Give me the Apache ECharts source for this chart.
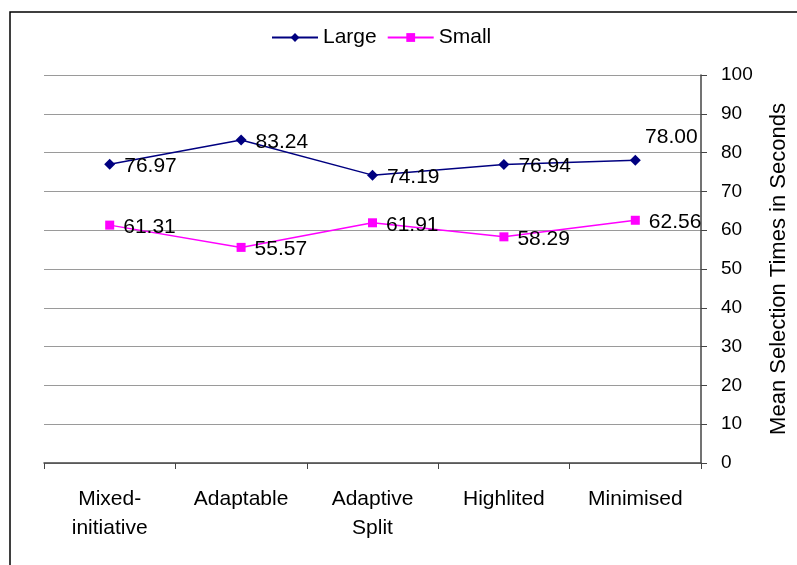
<!DOCTYPE html>
<html><head><meta charset="utf-8">
<script src="https://cdn.jsdelivr.net/npm/echarts@6/dist/echarts.min.js"></script>
<style>html,body{margin:0;padding:0;background:#fff}#c{width:797px;height:565px}</style>
</head><body><div id="c"></div>
<script>
const categories = ['Mixed-\ninitiative', 'Adaptable', 'Adaptive\nSplit', 'Highlited', 'Minimised'];
const largeValues = [76.97, 83.24, 74.19, 76.94, 78.00];
const smallValues = [61.31, 55.57, 61.91, 58.29, 62.56];
const yTicks = [0, 10, 20, 30, 40, 50, 60, 70, 80, 90, 100];

const chart = echarts.init(document.getElementById('c'), null, {renderer: 'canvas'});
const font = 'Liberation Sans, Arial, sans-serif';
const lbl = {show: true, position: 'right', distance: 9, offset: [0, 2], color: '#000', fontSize: 21, fontFamily: font,
  formatter: p => p.value.toFixed(2)};
chart.setOption({
  animation: false,
  backgroundColor: '#fff',
  graphic: [{type: 'rect', shape: {x: 10, y: 12, width: 820, height: 620}, style: {fill: 'none', stroke: '#000', lineWidth: 1.5}}],
  legend: {top: 22, left: 266, itemWidth: 46, itemHeight: 11, itemGap: 10,
    textStyle: {fontSize: 21, fontFamily: font, color: '#000'},
    data: ['Large', 'Small']},
  grid: {left: 44, right: 96, top: 75, bottom: 102, containLabel: false, outerBoundsMode: 'none'},
  xAxis: {type: 'category', data: categories, boundaryGap: true,
    axisLine: {lineStyle: {color: '#444', width: 1.5}},
    axisTick: {show: true, interval: 0, length: 6, lineStyle: {color: '#444'}},
    axisLabel: {interval: 0, margin: 22, fontSize: 21, lineHeight: 29, color: '#000', fontFamily: font}},
  yAxis: {type: 'value', position: 'right', min: yTicks[0], max: yTicks[yTicks.length - 1], interval: 10,
    name: 'Mean Selection Times in Seconds', nameLocation: 'middle', nameGap: 67, nameRotate: 90,
    nameTextStyle: {fontSize: 22, fontFamily: font, color: '#000'},
    axisLine: {show: true, lineStyle: {color: '#444', width: 1.5}},
    axisTick: {show: true, length: 6, lineStyle: {color: '#444'}},
    axisLabel: {margin: 20, fontSize: 19, color: '#000', fontFamily: font},
    splitLine: {show: true, lineStyle: {color: '#9a9a9a', width: 1.2}}},
  series: [
    {name: 'Large', type: 'line', data: largeValues.map((v, i) => i === 4 ? {value: v, label: {position: 'top', offset: [36, 2]}} : v),
     symbol: 'diamond', symbolSize: 11, color: '#000080', lineStyle: {color: '#000080', width: 1.5}, label: lbl},
    {name: 'Small', type: 'line', data: smallValues, symbol: 'rect', symbolSize: 9,
     color: '#ff00ff', lineStyle: {color: '#ff00ff', width: 1.5}, label: lbl}
  ]
});
</script></body></html>
